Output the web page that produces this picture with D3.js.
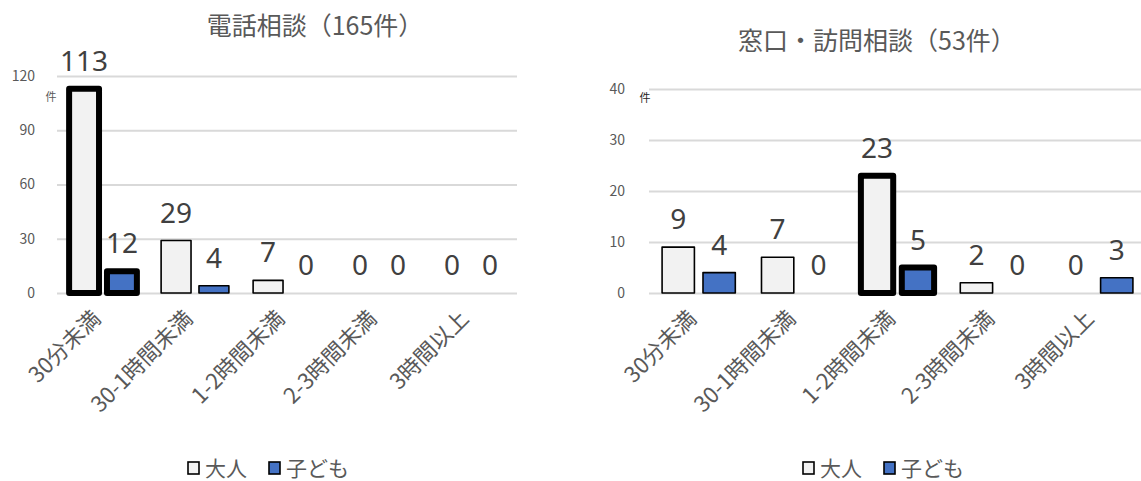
<!DOCTYPE html>
<html lang="ja">
<head>
<meta charset="utf-8">
<script src="https://cdn.jsdelivr.net/npm/d3@7"></script>
<style>
  html, body { margin: 0; padding: 0; background: #ffffff; }
  svg { display: block; font-family: "Noto Sans CJK JP", "Noto Sans", sans-serif; }
</style>
</head>
<body>
<svg id="chart" width="1141" height="481"></svg>
<script>
// Consultation time categories shared by both panels
const categories = ["30分未満", "30-1時間未満", "1-2時間未満", "2-3時間未満", "3時間以上"];
const seriesNames = ["大人", "子ども"];
const seriesColors = ["#f2f2f2", "#4472c4"];

// 電話相談 (165件)
const phoneTitle = "電話相談（165件）";
const phoneAdults = [113, 29, 7, 0, 0];
const phoneChildren = [12, 4, 0, 0, 0];
const phoneTicks = [0, 30, 60, 90, 120];
const phoneHighlight = "30分未満";

// 窓口・訪問相談 (53件)
const visitTitle = "窓口・訪問相談（53件）";
const visitAdults = [9, 7, 23, 2, 0];
const visitChildren = [4, 0, 5, 0, 3];
const visitTicks = [0, 10, 20, 30, 40];
const visitHighlight = "1-2時間未満";

const unitLabel = "件";

const svg = d3.select("#chart");

function drawPanel(cfg) {
  const g = svg.append("g");
  const x0 = d3.scaleBand().domain(categories).range([cfg.left, cfg.right]);
  const x1 = d3.scaleBand().domain(seriesNames).range([0, x0.bandwidth()])
    .paddingInner(0.21).paddingOuter(0.32);
  const y = d3.scaleLinear().domain([0, d3.max(cfg.ticks)]).range([cfg.bottom, cfg.top]);

  // title
  g.append("text")
    .attr("x", cfg.titleX).attr("y", cfg.titleY)
    .attr("text-anchor", "middle")
    .attr("font-size", 25).attr("fill", "#595959")
    .text(cfg.title);

  // value axis with gridlines
  const axis = d3.axisLeft(y).tickValues(cfg.ticks)
    .tickSize(-(cfg.gridRight - cfg.left)).tickPadding(cfg.tickPad);
  const ag = g.append("g").attr("transform", `translate(${cfg.left},0)`).call(axis);
  ag.select(".domain").remove();
  ag.selectAll(".tick line").attr("stroke", "#d9d9d9").attr("stroke-width", 2);
  ag.selectAll(".tick text")
    .attr("font-size", 14).attr("fill", "#595959")
    .attr("font-family", "\"Noto Sans CJK JP\", sans-serif");

  // unit
  g.append("text")
    .attr("x", cfg.unitX).attr("y", cfg.unitY)
    .attr("text-anchor", "middle")
    .attr("font-size", 11).attr("fill", cfg.unitColor)
    .text(unitLabel);

  // bars
  const rows = categories.map((c, i) => ({
    cat: c,
    vals: [
      { key: seriesNames[0], v: cfg.adults[i] },
      { key: seriesNames[1], v: cfg.children[i] }
    ]
  }));

  const cg = g.selectAll(".cat").data(rows).join("g")
    .attr("transform", d => `translate(${x0(d.cat)},0)`);

  cg.selectAll("rect").data(d => d.vals.map(v => ({ ...v, hi: d.cat === cfg.highlight })))
    .join("rect")
    .filter(d => d.v > 0)
    .attr("x", d => x1(d.key))
    .attr("width", x1.bandwidth())
    .attr("y", d => y(d.v))
    .attr("height", d => y(0) - y(d.v))
    .attr("fill", d => seriesColors[seriesNames.indexOf(d.key)])
    .attr("stroke", "#000")
    .attr("stroke-width", d => d.hi ? 6 : 1.6)
    .attr("stroke-linejoin", "round");

  // value labels
  cg.selectAll("text.val").data(d => d.vals).join("text")
    .attr("class", "val")
    .attr("x", d => x1(d.key) + x1.bandwidth() / 2)
    .attr("y", d => y(d.v) - 18)
    .attr("text-anchor", "middle")
    .attr("font-size", 28).attr("fill", "#404040")
    .attr("font-family", "\"Noto Sans\", \"Noto Sans CJK JP\", sans-serif")
    .text(d => d.v);

  // category labels
  g.selectAll("text.cat").data(categories).join("text")
    .attr("class", "cat")
    .attr("text-anchor", "end")
    .attr("transform", d => `translate(${x0(d) + x0.bandwidth() / 2 - 1},${cfg.bottom + 27}) rotate(-45)`)
    .attr("font-size", 22).attr("fill", "#595959")
    .text(d => d);

  // legend
  const lg = g.append("g").attr("transform", `translate(${cfg.legendX},${cfg.legendY})`);
  let lx = 0;
  seriesNames.forEach((name, i) => {
    lg.append("rect")
      .attr("x", lx).attr("y", -6).attr("width", 11).attr("height", 12)
      .attr("fill", seriesColors[i]).attr("stroke", "#000").attr("stroke-width", 1.6);
    const t = lg.append("text")
      .attr("x", lx + 17).attr("y", 8)
      .attr("font-size", 21).attr("fill", "#595959")
      .text(name);
    lx += 17 + t.node().getComputedTextLength() + 22;
  });
}

drawPanel({
  title: phoneTitle, titleX: 315, titleY: 35,
  adults: phoneAdults, children: phoneChildren, ticks: phoneTicks, highlight: phoneHighlight,
  left: 57, right: 517, gridRight: 517, top: 76, bottom: 293, tickPad: 22,
  unitX: 51, unitY: 101, unitColor: "#595959",
  legendX: 188, legendY: 468
});

drawPanel({
  title: visitTitle, titleX: 877, titleY: 50,
  adults: visitAdults, children: visitChildren, ticks: visitTicks, highlight: visitHighlight,
  left: 649, right: 1146, gridRight: 1146, top: 89, bottom: 293, tickPad: 24,
  unitX: 645, unitY: 102, unitColor: "#262626",
  legendX: 803, legendY: 468
});
</script>
</body>
</html>
